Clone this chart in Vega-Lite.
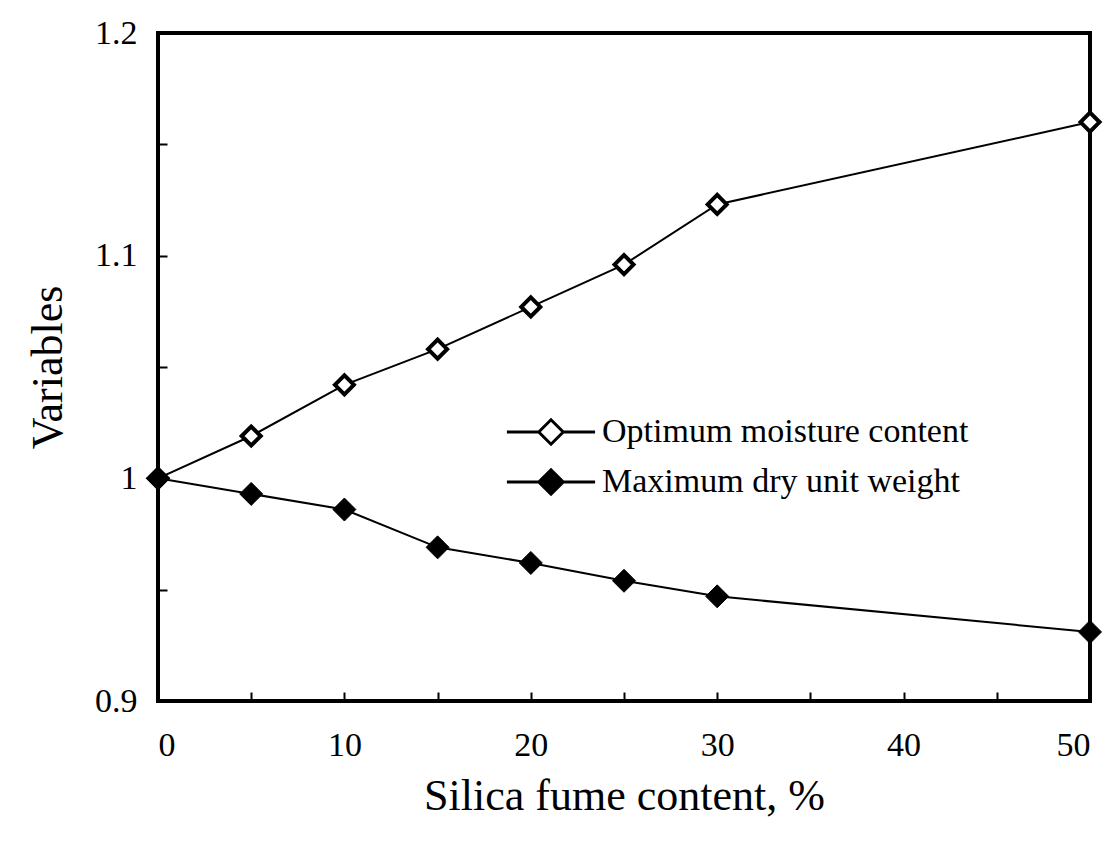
{
  "$schema": "https://vega.github.io/schema/vega-lite/v6.json",
  "width": 932,
  "height": 668,
  "autosize": {"type": "none"},
  "padding": {"left": 158, "top": 33, "right": 13, "bottom": 143},
  "background": "white",
  "config": {
    "view": {"stroke": "black", "strokeWidth": 4},
    "font": "Liberation Serif",
    "axis": {
      "domain": false,
      "grid": false,
      "tickColor": "black",
      "tickWidth": 2,
      "tickSize": -9,
      "labelColor": "black",
      "labelFont": "Liberation Serif",
      "labelFontSize": 34,
      "titleFont": "Liberation Serif",
      "titleFontSize": 44,
      "titleFontWeight": "normal",
      "titleColor": "black"
    }
  },
  "data": {
    "values": [
      {"x": 0, "value": 1.0, "series": "Optimum moisture content"},
      {"x": 5, "value": 1.019, "series": "Optimum moisture content"},
      {"x": 10, "value": 1.042, "series": "Optimum moisture content"},
      {"x": 15, "value": 1.058, "series": "Optimum moisture content"},
      {"x": 20, "value": 1.077, "series": "Optimum moisture content"},
      {"x": 25, "value": 1.096, "series": "Optimum moisture content"},
      {"x": 30, "value": 1.123, "series": "Optimum moisture content"},
      {"x": 50, "value": 1.16, "series": "Optimum moisture content"},
      {"x": 0, "value": 1.0, "series": "Maximum dry unit weight"},
      {"x": 5, "value": 0.993, "series": "Maximum dry unit weight"},
      {"x": 10, "value": 0.986, "series": "Maximum dry unit weight"},
      {"x": 15, "value": 0.969, "series": "Maximum dry unit weight"},
      {"x": 20, "value": 0.962, "series": "Maximum dry unit weight"},
      {"x": 25, "value": 0.954, "series": "Maximum dry unit weight"},
      {"x": 30, "value": 0.947, "series": "Maximum dry unit weight"},
      {"x": 50, "value": 0.931, "series": "Maximum dry unit weight"}
    ]
  },
  "encoding": {
    "x": {
      "field": "x",
      "type": "quantitative",
      "scale": {"domain": [0, 50], "nice": false},
      "axis": {
        "values": [0, 5, 10, 15, 20, 25, 30, 35, 40, 45, 50],
        "labelExpr": "datum.value % 10 === 0 ? datum.label : ''",
        "labelPadding": 36,
        "title": "Silica fume content, %",
        "titlePadding": 12
      }
    },
    "y": {
      "field": "value",
      "type": "quantitative",
      "scale": {"domain": [0.9, 1.2], "nice": false, "zero": false},
      "axis": {
        "values": [0.9, 0.95, 1.0, 1.05, 1.1, 1.15, 1.2],
        "labelExpr": "round(datum.value * 100) % 10 === 0 ? format(datum.value, '~g') : ''",
        "labelPadding": 30,
        "title": "Variables",
        "titlePadding": 24
      }
    }
  },
  "layer": [
    {
      "mark": {"type": "line", "color": "black", "strokeWidth": 2},
      "encoding": {"detail": {"field": "series", "type": "nominal"}}
    },
    {
      "transform": [{"filter": "datum.series === 'Optimum moisture content'"}],
      "mark": {"type": "point", "shape": "diamond", "filled": true, "stroke": "black", "strokeWidth": 4, "size": 361, "opacity": 1},
      "encoding": {
        "fill": {
          "field": "series",
          "type": "nominal",
          "scale": {"domain": ["Optimum moisture content", "Maximum dry unit weight"], "range": ["white", "black"]},
          "legend": {
            "title": null,
            "orient": "none",
            "legendX": 376,
            "legendY": 382,
            "symbolType": "M-1,0L0,-1L1,0L0,1Z M-3.6,0H-1 M1,0H3.6",
            "symbolSize": 600,
            "symbolStrokeWidth": 3,
            "symbolStrokeColor": "black",
            "symbolOpacity": 1,
            "labelFont": "Liberation Serif",
            "labelFontSize": 34,
            "labelColor": "black",
            "labelOffset": 34,
            "rowPadding": 12,
            "labelLimit": 600
          }
        }
      }
    },
    {
      "transform": [{"filter": "datum.series === 'Maximum dry unit weight'"}],
      "mark": {"type": "point", "shape": "diamond", "filled": true, "stroke": "black", "strokeWidth": 1, "size": 529, "opacity": 1},
      "encoding": {
        "fill": {
          "field": "series",
          "type": "nominal"
        }
      }
    }
  ]
}
